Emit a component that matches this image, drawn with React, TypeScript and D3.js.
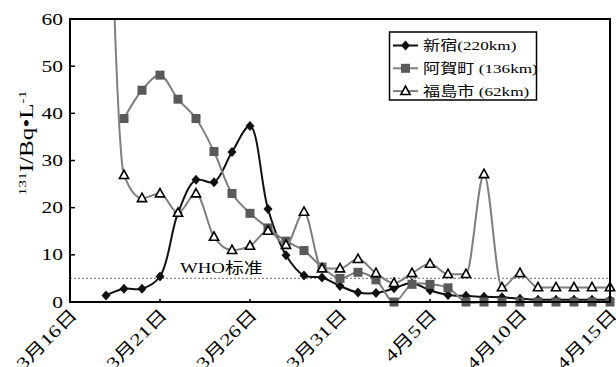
import React from "react";
import * as d3 from "d3";

// ---- data ----
const dates = [
  "3/18", "3/19", "3/20", "3/21", "3/22", "3/23", "3/24", "3/25", "3/26", "3/27",
  "3/28", "3/29", "3/30", "3/31", "4/1", "4/2", "4/3", "4/4", "4/5", "4/6",
  "4/7", "4/8", "4/9", "4/10", "4/11", "4/12", "4/13", "4/14", "4/15",
];
const shinjuku: (number | null)[] = [
  1.4, 2.8, 2.8, 5.4, 18.9, 25.9, 25.4, 31.8, 37.3, 19.7,
  9.9, 5.6, 5.2, 3.4, 2.0, 1.9, 2.9, 4.0, 2.5, 1.5,
  1.3, 1.1, 1.0, 0.7, 0.5, 0.5, 0.5, 0.5, 0.5,
];
const akaho: (number | null)[] = [
  null, 38.9, 44.9, 48.1, 43.0, 38.9, 31.9, 23.0, 18.8, 15.7,
  12.9, 10.9, 7.4, 5.0, 6.3, 4.7, 0, 3.75, 3.75, 3.0,
  0, 0, 0, 0, 0, 0, 0, 0, 0,
];
const fukushima: (number | null)[] = [
  120, 26.9, 22.0, 23.0, 18.9, 23.0, 13.8, 11.0, 11.9, 15.1,
  12.1, 19.1, 7.1, 7.1, 9.1, 6.1, 4.0, 6.1, 8.1, 5.9,
  5.9, 27.1, 3.1, 6.1, 3.1, 3.1, 3.1, 3.1, 3.1,
];
const seriesNames = ["新宿(220km)", "阿賀町 (136km)", "福島市 (62km)"];
const xTickDates = ["3/16", "3/21", "3/26", "3/31", "4/5", "4/10", "4/15"];
const xTickLabels = ["3月16日", "3月21日", "3月26日", "3月31日", "4月5日", "4月10日", "4月15日"];
const yTicks = [0, 10, 20, 30, 40, 50, 60];
const whoLevel = 5;
const whoLabel = "WHO标准";

// ---- layout ----
const W = 616;
const H = 367;
const PL = 70, PR = 610, PT = 19, PB = 302;
const FONT = "'Liberation Serif', 'Times New Roman', 'Noto Sans CJK SC', serif";
const SX = 1.3;

const parse = (s: string) => {
  const [m, d] = s.split("/").map(Number);
  return new Date(Date.UTC(2011, m - 1, d));
};

const x = d3.scaleUtc().domain([parse("3/16"), parse("4/15")]).range([PL, PR]);
const y = d3.scaleLinear().domain([0, 60]).range([PB, PT]);

const makeLine = (curve: any) =>
  d3
    .line<number | null>()
    .defined((v) => v != null)
    .x((_, i) => x(parse(dates[i])))
    .y((v) => y(v as number))
    .curve(curve);

const curves = [
  d3.curveCatmullRom.alpha(0.5),
  d3.curveCatmullRom.alpha(0.5),
  d3.curveMonotoneX,
];

const diamond = "M0,-5L4.5,0L0,5L-4.5,0Z";
const triangle = "M0,-5L4.6,3.4L-4.6,3.4Z";

function Marker({ kind, cx, cy }: { kind: number; cx: number; cy: number }) {
  if (kind === 0) return <path d={diamond} transform={`translate(${cx},${cy})`} fill="#111" />;
  if (kind === 1) return <rect x={cx - 4.5} y={cy - 4.5} width={9} height={9} fill="#595959" />;
  return (
    <path d={triangle} transform={`translate(${cx},${cy})`} fill="#fff" stroke="#000" strokeWidth={1.6} />
  );
}

const seriesData = [shinjuku, akaho, fukushima];
const lineColors = ["#111", "#7f7f7f", "#7f7f7f"];

function SText(props: any) {
  const { tx, ty, rot = 0, sx = SX, children, ...rest } = props;
  return (
    <text transform={`translate(${tx},${ty}) rotate(${rot}) scale(${sx},1)`} fontFamily={FONT} fill="#000" {...rest}>
      {children}
    </text>
  );
}

export default function App() {
  return (
    <svg width={W} height={H} style={{ position: "absolute", left: 0, top: 0, background: "#fff" }}>
      <defs>
        <clipPath id="plotclip">
          <rect x={0} y={PT} width={W} height={H - PT} />
        </clipPath>
      </defs>
      <rect x={0} y={0} width={W} height={H} fill="#fff" />

      {/* WHO line */}
      <line x1={PL} x2={PR} y1={y(whoLevel)} y2={y(whoLevel)} stroke="#8c8c8c" strokeWidth={1.3} strokeDasharray="2,2" />
      <SText tx={180} ty={272.7} fontSize={14.5}>{whoLabel}</SText>

      {/* series */}
      <g clipPath="url(#plotclip)">
        {seriesData.map((s, k) => (
          <g key={k}>
            <path d={makeLine(curves[k])(s) || ""} fill="none" stroke={lineColors[k]} strokeWidth={2} />
            {s.map((v, i) =>
              v == null ? null : <Marker key={i} kind={k} cx={x(parse(dates[i]))} cy={y(v)} />
            )}
          </g>
        ))}
      </g>

      {/* frame */}
      <rect x={PL} y={PT} width={PR - PL} height={PB - PT} fill="none" stroke="#000" strokeWidth={2} />

      {/* y ticks */}
      {yTicks.map((t) => (
        <g key={t}>
          <line x1={PL} x2={PL + 5} y1={y(t)} y2={y(t)} stroke="#000" strokeWidth={1.5} />
          <SText tx={63} ty={y(t)} fontSize={16.5} textAnchor="end" dominantBaseline="central">
            {t}
          </SText>
        </g>
      ))}

      {/* x ticks */}
      {xTickDates.map((d, i) => {
        const xx = x(parse(d));
        return (
          <g key={d}>
            <line x1={xx} x2={xx} y1={PB} y2={PB - 3} stroke="#000" strokeWidth={1.5} />
            <SText tx={xx + 8} ty={316} rot={-45} fontSize={17} textAnchor="end">
              {xTickLabels[i]}
            </SText>
          </g>
        );
      })}

      {/* y label */}
      <SText tx={33} ty={143} rot={-90} sx={1.4} fontSize={18} textAnchor="middle">
        <tspan fontSize={11} dy={-7}>131</tspan>
        <tspan dy={7}>I/Bq•L</tspan>
        <tspan fontSize={11} dy={-7}>-1</tspan>
      </SText>

      {/* legend */}
      <rect x={389.5} y={32} width={147} height={68} fill="#fff" stroke="#000" strokeWidth={1.5} />
      {seriesNames.map((n, k) => {
        const ly = 45.5 + k * 22.8;
        return (
          <g key={n}>
            <line x1={393} x2={418} y1={ly} y2={ly} stroke={lineColors[k]} strokeWidth={2} />
            <Marker kind={k} cx={405.5} cy={ly} />
            <SText tx={423} ty={ly} fontSize={13.2} dominantBaseline="central">
              {n}
            </SText>
          </g>
        );
      })}
    </svg>
  );
}
